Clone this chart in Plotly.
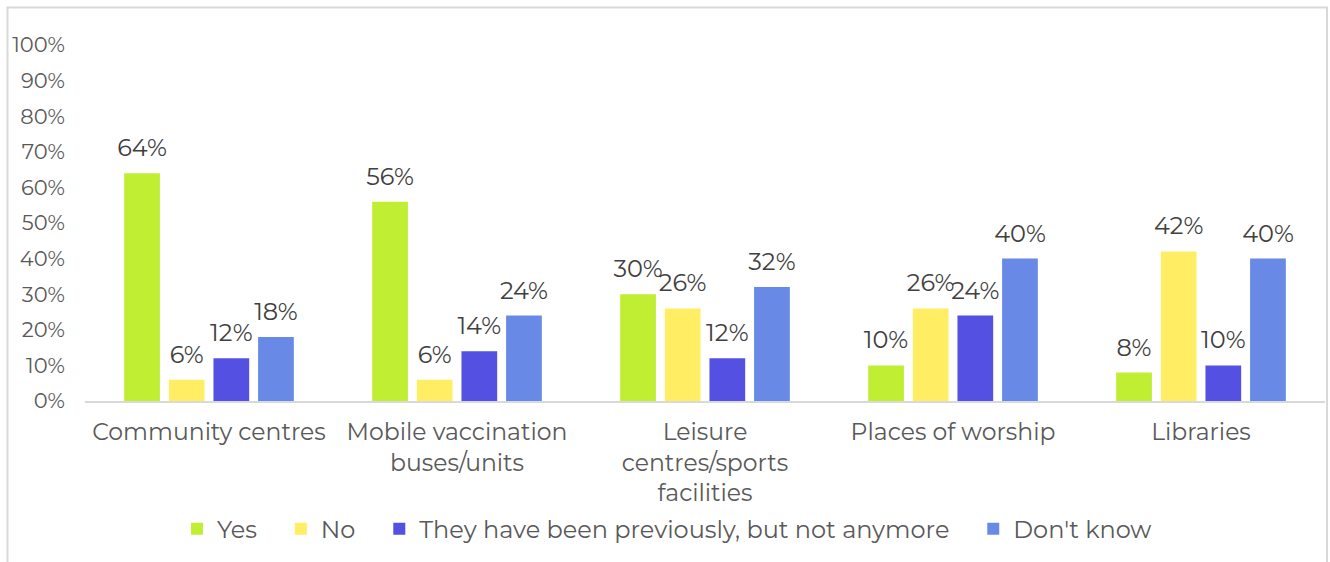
import plotly.graph_objects as go

categories = ["Community centres", "Mobile vaccination<br>buses/units", "Leisure<br>centres/sports<br>facilities", "Places of worship", "Libraries"]
series_names = ["Yes", "No", "They have been previously, but not anymore", "Don't know"]
yes = [64, 56, 30, 10, 8]
no = [6, 6, 26, 26, 42]
previously = [12, 14, 12, 24, 10]
dont_know = [18, 24, 32, 40, 40]
colors = ["#C0EE32", "#FFEE63", "#5450E2", "#6889E6"]
y_ticks = [0, 10, 20, 30, 40, 50, 60, 70, 80, 90, 100]

font_family = "Montserrat, 'Open Sans', 'Noto Sans', sans-serif"
text_color = "#595959"
label_color = "#404040"
NBSP = "\u00a0"

fig = go.Figure()
for i, (name, vals, col) in enumerate(zip(series_names, [yes, no, previously, dont_know], colors)):
    fig.add_trace(go.Bar(
        x=categories, y=vals, name=name + NBSP * 3,
        marker=dict(color=col, line=dict(width=0)),
        offsetgroup=str(i), alignmentgroup="a",
        hoverinfo="skip",
    ))
for i, vals in enumerate([yes, no, previously, dont_know]):
    fig.add_trace(go.Scatter(
        x=categories, y=vals, mode="markers+text",
        marker=dict(size=16, opacity=0),
        text=[f"{v}%" for v in vals], textposition="top center",
        textfont=dict(size=24, color=label_color, family=font_family),
        offsetgroup=str(i), alignmentgroup="a",
        showlegend=False, cliponaxis=False, hoverinfo="skip",
    ))

fig.update_layout(
    width=1330, height=562,
    margin=dict(l=85, r=5, t=45, b=161),
    paper_bgcolor="white", plot_bgcolor="white",
    barmode="group", bargap=0.28, bargroupgap=0.2,
    scattermode="group", scattergap=0.28,
    font=dict(family=font_family, color=text_color, size=21),
    showlegend=True,
    legend=dict(orientation="h", x=0.477, xanchor="center", y=-0.36, yanchor="middle",
                font=dict(size=24, color=text_color), traceorder="normal",
                itemwidth=30, bgcolor="rgba(0,0,0,0)"),
    xaxis=dict(showline=True, linecolor="#D9D9D9", linewidth=2, ticks="",
               ticklabelstandoff=9,
               tickfont=dict(size=23.5, color=text_color)),
    yaxis=dict(range=[0, 100], tickvals=y_ticks, ticktext=[f"{v}%" for v in y_ticks],
               showgrid=False, zeroline=False, showline=False, ticks="",
               ticklabelstandoff=19,
               tickfont=dict(size=21, color=text_color)),
    shapes=[dict(type="rect", xref="paper", yref="paper",
                 x0=-0.0625, x1=1.0016, y0=-0.5, y1=1.1053,
                 line=dict(color="#D9D9D9", width=2), fillcolor="rgba(0,0,0,0)", layer="below")],
)

fig.write_html("out.html")
